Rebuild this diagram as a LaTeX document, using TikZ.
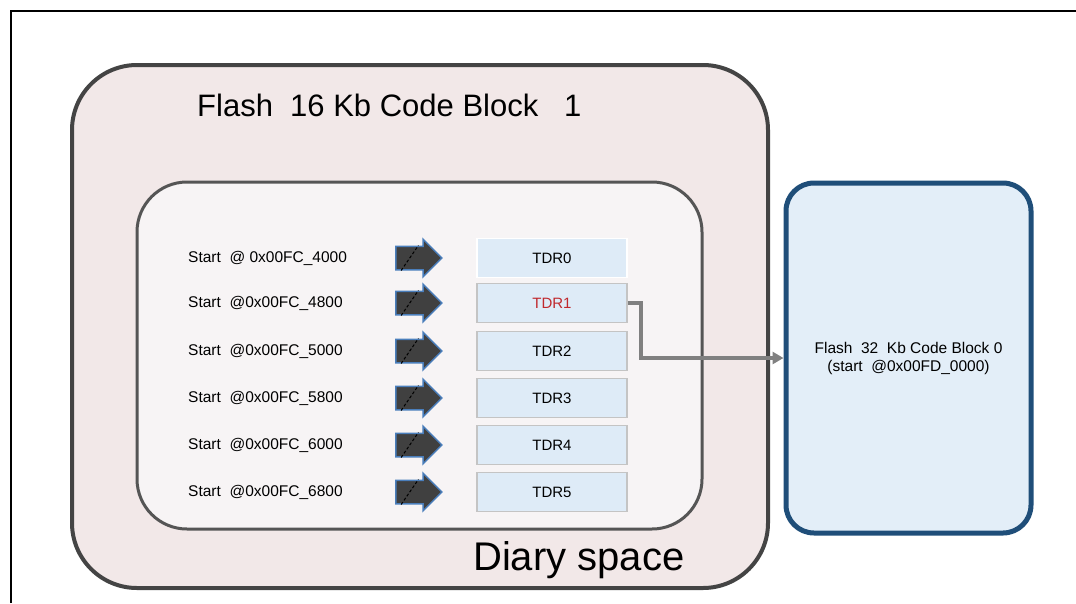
\documentclass[tikz,border=0pt]{standalone}
\usepackage{fontspec}
\setmainfont{Liberation Sans}
\usetikzlibrary{shapes.arrows,arrows.meta,positioning}
\definecolor{blockfill}{HTML}{F2E8E8}
\definecolor{blockline}{HTML}{444444}
\definecolor{diaryfill}{HTML}{F7F4F5}
\definecolor{diaryline}{HTML}{555555}
\definecolor{flashfill}{HTML}{E3EEF8}
\definecolor{flashline}{HTML}{1F4E79}
\definecolor{tdrfill}{HTML}{DEEBF7}
\definecolor{tdrline}{HTML}{C4C4C4}
\definecolor{arrowblue}{HTML}{4A7EBB}
\definecolor{arrowgray}{HTML}{404040}
\definecolor{connline}{HTML}{808080}
\definecolor{tdrred}{HTML}{C0282D}

\begin{document}
\begin{tikzpicture}[x=1pt,y=-1pt,
  tdr/.style={draw=tdrline,fill=tdrfill,line width=1.5pt,minimum width=150pt,minimum height=39pt,font=\fontsize{15}{17}\selectfont},
  startlbl/.style={anchor=west,inner sep=0pt,font=\fontsize{15.5}{17}\selectfont},
  blockarrow/.style={single arrow,draw=arrowblue,fill=arrowgray,line width=1.5pt,minimum height=46pt,inner xsep=0pt,inner ysep=11pt,single arrow head extend=7pt},
  conn/.style={draw=connline,line width=4.5pt,-{Triangle[length=11pt,width=12pt]}}]
  \useasboundingbox (0,0) rectangle (1076,603);
  \draw[line width=2pt] (11,603) -- (11,11) -- (1076,11);
  % boxes
  \node[draw=blockline,fill=blockfill,line width=4pt,rounded corners=65pt,minimum width=696pt,minimum height=523pt] (block1) at (420,326.5) {};
  \node[draw=diaryline,fill=diaryfill,line width=3pt,rounded corners=50pt,minimum width=565pt,minimum height=347pt] (diary) at (419.5,355.5) {};
  \node[draw=flashline,fill=flashfill,line width=5pt,rounded corners=28pt,minimum width=245pt,minimum height=350pt,align=center,font=\fontsize{15.5}{18}\selectfont] (block0) at (908.5,358) {Flash\ \ 32\ \ Kb Code Block 0\\(start\ \ @0x00FD\_0000)};
  \node[anchor=west,inner sep=0pt,font=\fontsize{31}{33}\selectfont] (title1) at (197,105) {Flash\ \ 16 Kb Code Block\ \ \ 1};
  \node[anchor=west,inner sep=0pt,font=\fontsize{40}{42}\selectfont] (diarylbl) at (473,560) {Diary space};
  % rows
  \foreach \i/\y/\addr in {0/258/{@ 0x00FC\_4000},1/303/{@0x00FC\_4800},2/351/{@0x00FC\_5000},3/398/{@0x00FC\_5800},4/445/{@0x00FC\_6000},5/492/{@0x00FC\_6800}} {
    \node[startlbl] (start\i) at (188,\y) {Start\ \ \addr};
    \node[blockarrow] (arr\i) at (413,\y) {};
    \draw[black,densely dashed,line width=1pt] ([xshift=6pt]arr\i.before tail) -- ([xshift=-4pt]arr\i.before head);
    \node[tdr] (tdr\i) at (552,\y) {TDR\i};
  }
  \node[tdr,draw=white,text=black] at (tdr0) {TDR0};
  \node[tdr,text=tdrred] at (tdr1) {TDR1};
  \draw[conn] (tdr1.east) -- ++(13,0) |- (block0.west);
\end{tikzpicture}
\end{document}
